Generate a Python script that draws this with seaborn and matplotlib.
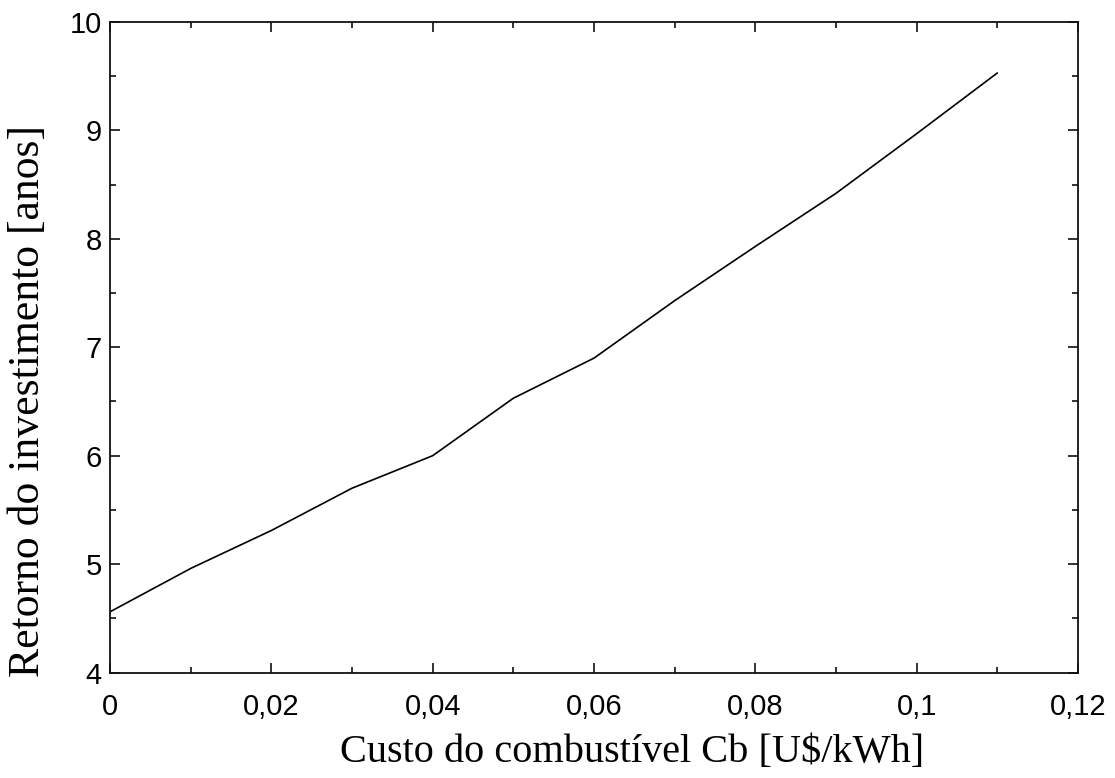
import matplotlib
matplotlib.use("Agg")
import matplotlib.pyplot as plt
from matplotlib.ticker import MultipleLocator
import seaborn as sns
import pandas as pd

custo = [0.00, 0.01, 0.02, 0.03, 0.04, 0.05, 0.06, 0.07, 0.08, 0.09, 0.10, 0.11]
retorno = [4.56, 4.96, 5.31, 5.70, 6.00, 6.53, 6.90, 7.43, 7.93, 8.42, 8.97, 9.53]
x_ticks = [0, 0.02, 0.04, 0.06, 0.08, 0.10, 0.12]
x_labels = ["0", "0,02", "0,04", "0,06", "0,08", "0,1", "0,12"]
y_ticks = [4, 5, 6, 7, 8, 9, 10]

sns.set_theme(style="ticks")
plt.rcParams['font.family'] = ['Liberation Sans', 'DejaVu Sans']

df = pd.DataFrame({"custo": custo, "retorno": retorno})

fig = plt.figure(figsize=(11.15, 7.78), dpi=100)
ax = fig.add_axes([0.0987, 0.1356, 0.9668 - 0.0987, 0.9717 - 0.1356])
sns.lineplot(data=df, x="custo", y="retorno", ax=ax, color="black", linewidth=1.2)

ax.set_xlim(0, 0.12)
ax.set_ylim(4, 10)
ax.set_xticks(x_ticks)
ax.set_xticklabels(x_labels)
ax.set_yticks(y_ticks)
ax.set_yticklabels([str(v) for v in y_ticks])
ax.xaxis.set_minor_locator(MultipleLocator(0.01))
ax.yaxis.set_minor_locator(MultipleLocator(0.5))

ax.tick_params(which="both", direction="in", top=True, right=True, color="#111111",
               width=1.2, labelcolor="black")
ax.tick_params(which="major", length=7, labelsize=21)
ax.tick_params(axis="x", which="major", pad=15)
ax.tick_params(axis="y", which="major", pad=6)
ax.tick_params(which="minor", length=4.5)
for s in ax.spines.values():
    s.set_linewidth(1.3)
    s.set_color("#111111")
    s.set_visible(True)

ax.set_xlabel("Custo do combustível Cb [U$/kWh]", family=["Liberation Serif"], fontsize=29, color="black")
ax.set_ylabel("Retorno do investimento [anos]", family=["Liberation Serif"], fontsize=31.5, color="black")
ax.xaxis.set_label_coords(0.539, -0.095)
ax.yaxis.set_label_coords(-0.064, 0.417)

fig.savefig("out.png", dpi=100, facecolor="white")
